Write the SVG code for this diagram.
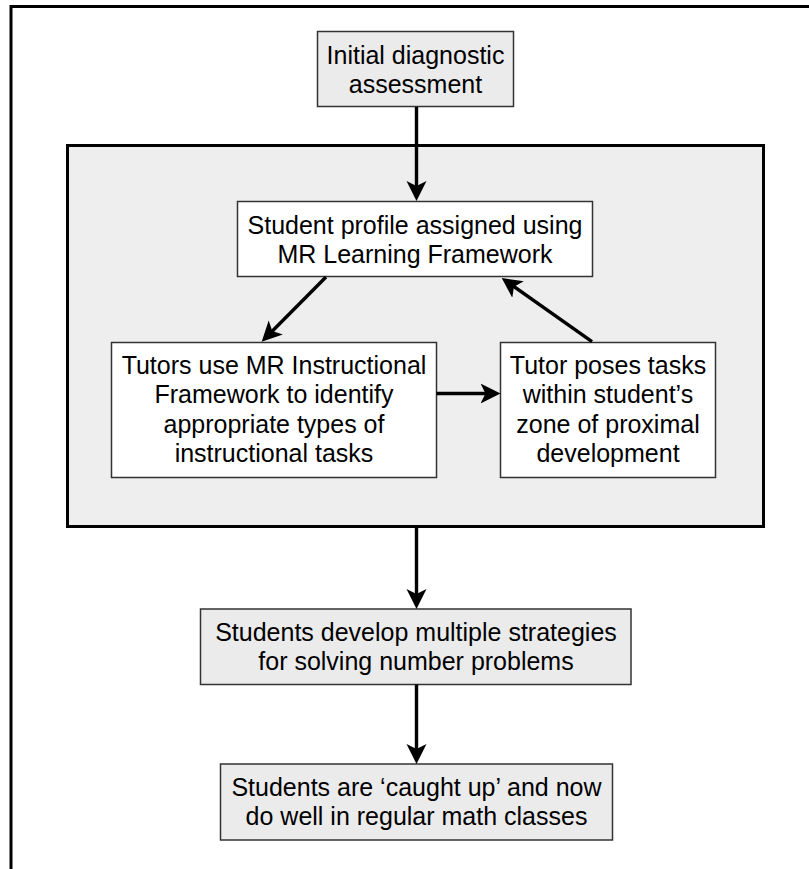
<svg xmlns="http://www.w3.org/2000/svg" width="809" height="869" viewBox="0 0 809 869">
<style>
  .box { stroke: #333333; stroke-width: 1.5; }
  .gray { fill: #ebebeb; }
  .white { fill: #ffffff; }
  .t { font-family: "Liberation Sans", Arial, sans-serif; font-size: 25px; fill: #000000; text-anchor: middle; }
  .conn { stroke: #000000; stroke-width: 3.4; fill: none; marker-end: url(#arrow); }
</style>
<defs>
  <marker id="arrow" viewBox="0 0 20 22" refX="15" refY="11" markerWidth="20" markerHeight="22" markerUnits="userSpaceOnUse" orient="auto">
    <path d="M0,1 L20,11 L0,21 L5,11 z" fill="#000000"/>
  </marker>
</defs>
<rect width="809" height="869" fill="#ffffff"/>
<g id="frame">
  <path d="M11,875 V6.5 H815" fill="none" stroke="#000000" stroke-width="3"/>
</g>
<g id="panel">
  <rect x="67.5" y="145.5" width="696" height="381" fill="#eeeeee" stroke="#000000" stroke-width="3"/>
</g>
<g id="n1">
  <rect class="box gray" x="317.5" y="31.5" width="196" height="75"/>
  <text class="t" x="415.5" y="63.5">Initial diagnostic</text>
  <text class="t" x="415.5" y="92.5">assessment</text>
</g>
<g id="n2">
  <rect class="box white" x="237.5" y="201.5" width="355" height="75"/>
  <text class="t" x="415" y="233.5">Student profile assigned using</text>
  <text class="t" x="415" y="262.5">MR Learning Framework</text>
</g>
<g id="n3">
  <rect class="box white" x="111.5" y="342.5" width="325" height="135"/>
  <text class="t" x="274" y="373.5">Tutors use MR Instructional</text>
  <text class="t" x="274" y="403">Framework to identify</text>
  <text class="t" x="274" y="432.5">appropriate types of</text>
  <text class="t" x="274" y="462">instructional tasks</text>
</g>
<g id="n4">
  <rect class="box white" x="500.5" y="342.5" width="215" height="135"/>
  <text class="t" x="608" y="373.5">Tutor poses tasks</text>
  <text class="t" x="608" y="403">within student’s</text>
  <text class="t" x="608" y="432.5">zone of proximal</text>
  <text class="t" x="608" y="462">development</text>
</g>
<g id="n5">
  <rect class="box gray" x="200.5" y="609" width="430.5" height="75.5"/>
  <text class="t" x="416" y="641">Students develop multiple strategies</text>
  <text class="t" x="416" y="670">for solving number problems</text>
</g>
<g id="n6">
  <rect class="box gray" x="220.5" y="764" width="392" height="76"/>
  <text class="t" x="416.5" y="796">Students are ‘caught up’ and now</text>
  <text class="t" x="416.5" y="825">do well in regular math classes</text>
</g>
<g id="connectors">
  <path class="conn" d="M416.5,107 L416.5,196"/>
  <path class="conn" d="M326,277 L265.2,338.2"/>
  <path class="conn" d="M592,341.7 L505.8,280.9"/>
  <path class="conn" d="M436.5,393.5 L495.5,393.5"/>
  <path class="conn" d="M416.5,527 L416.5,604"/>
  <path class="conn" d="M416.5,684.5 L416.5,759"/>
</g>
</svg>
